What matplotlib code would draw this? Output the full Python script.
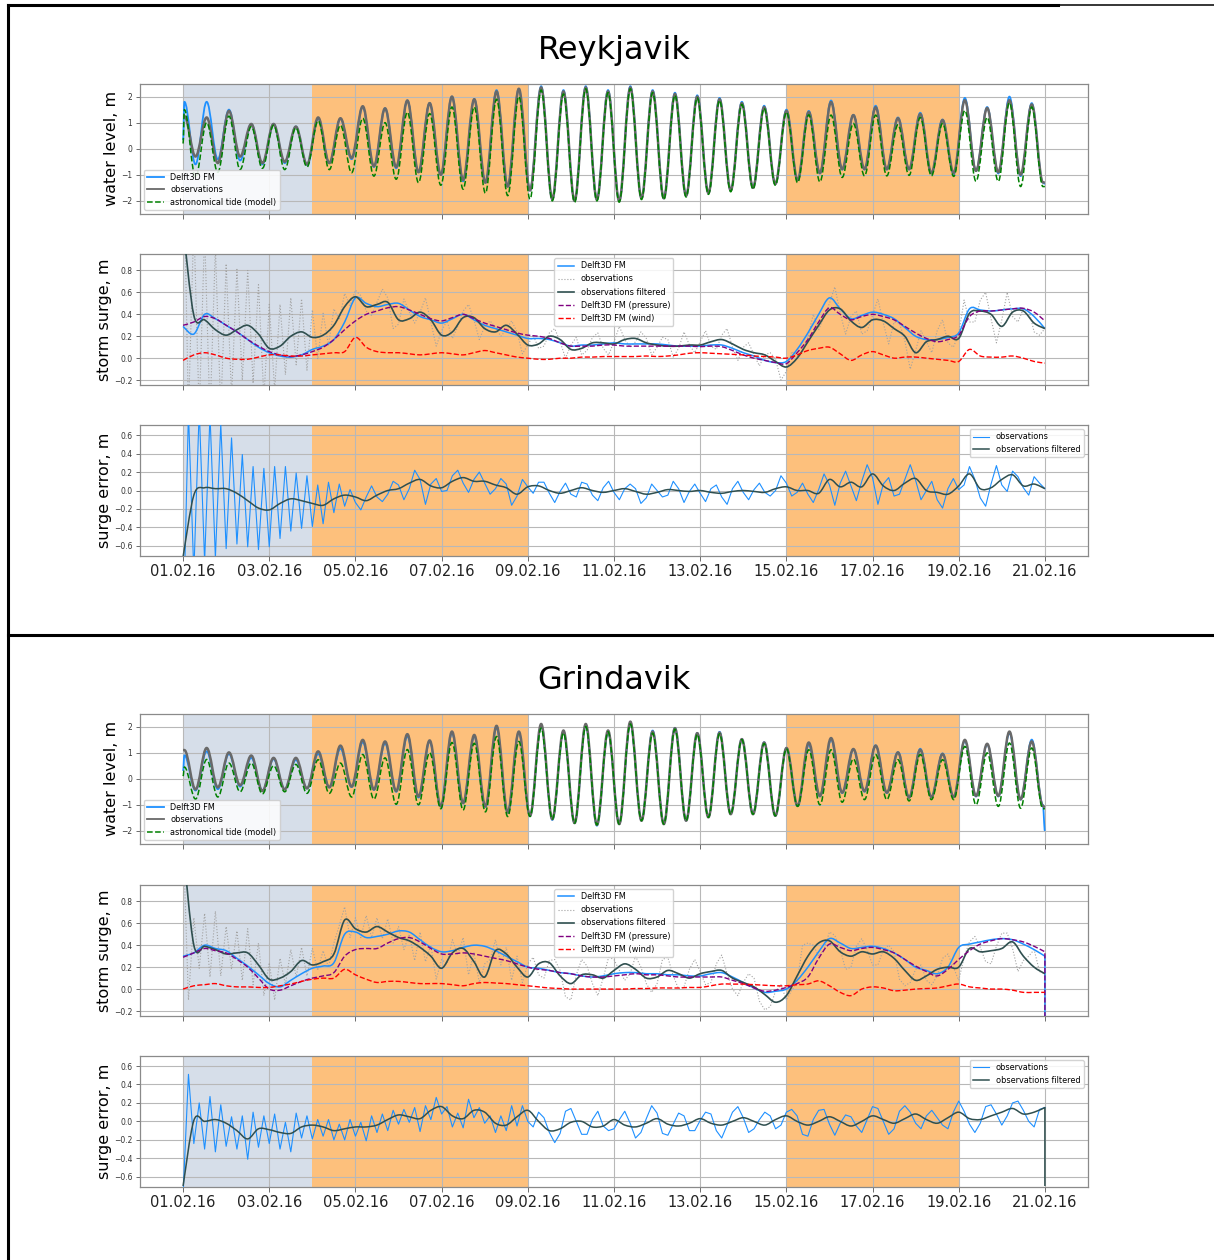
import numpy as np
import matplotlib
matplotlib.use("Agg")
import matplotlib.pyplot as plt
import matplotlib.dates as mdates
from matplotlib.path import Path
from matplotlib.patches import PathPatch
from matplotlib.lines import Line2D

plt.rcParams["font.family"] = ["DejaVu Sans"]

# ------------------------------------------------------------------ time base
START = np.datetime64("2016-02-01T00:00")
RECORD_DAYS = 20.0
HW0 = 0.03            # first high water, days after start
HALF_TIDE = 0.25875   # half of the M2 period, days
N_EXTREMES = 78       # high and low waters in the record

SPINUP = (0.0, 3.0)                  # model spin-up period
EVENTS = [(3.0, 8.0), (14.0, 18.0)]  # storm periods

# ------------------------------------------------------------------ Reykjavik
# water level: start value, alternating high/low waters, end value (m)
rey_wl_model = [0.33,
    1.80, -0.60, 1.80, -0.40, 1.50, -0.45, 0.95, -0.60, 0.95, -0.55,
    0.85, -0.62, 1.15, -0.55, 1.15, -0.40, 1.60, -0.70, 1.55, -0.75,
    1.85, -0.90, 1.75, -1.00, 2.00, -1.25, 1.90, -1.30, 2.25, -1.45,
    2.30, -1.60, 2.40, -1.95, 2.25, -2.00, 2.40, -1.95, 2.25, -2.00,
    2.40, -1.90, 2.25, -1.90, 2.15, -1.80, 2.05, -1.70, 1.95, -1.60,
    1.80, -1.50, 1.65, -1.35, 1.50, -1.20, 1.45, -0.95, 1.85, -0.80,
    1.30, -0.80, 1.65, -0.80, 1.20, -0.80, 1.38, -0.95, 1.12, -0.97,
    1.95, -0.85, 1.60, -0.95, 2.00, -1.05, 1.75, -1.30,
    -1.35]
rey_wl_obs = [1.25,
    1.25, -0.30, 1.20, -0.55, 1.45, -0.30, 0.95, -0.55, 0.95, -0.50,
    0.85, -0.60, 1.20, -0.55, 1.17, -0.35, 1.63, -0.67, 1.55, -0.70,
    1.85, -0.90, 1.75, -1.00, 2.00, -1.20, 1.90, -1.30, 2.20, -1.45,
    2.30, -1.60, 2.35, -1.93, 2.20, -2.00, 2.35, -1.95, 2.20, -2.00,
    2.35, -1.90, 2.20, -1.90, 2.10, -1.80, 2.00, -1.70, 1.90, -1.60,
    1.75, -1.50, 1.60, -1.35, 1.45, -1.20, 1.41, -0.93, 1.79, -0.78,
    1.29, -0.78, 1.59, -0.78, 1.17, -0.78, 1.33, -0.93, 1.10, -0.93,
    1.86, -0.85, 1.56, -0.90, 1.86, -1.00, 1.70, -1.29,
    -1.30]
rey_wl_tide = [0.20,
    1.50, -1.10, 1.00, -0.90, 1.25, -0.80, 0.85, -0.75, 0.90, -0.80,
    0.80, -0.70, 1.07, -0.80, 0.90, -0.92, 1.17, -1.05, 1.00, -1.17,
    1.40, -1.30, 1.35, -1.40, 1.60, -1.55, 1.60, -1.70, 1.90, -1.80,
    2.00, -1.93, 2.25, -2.00, 2.10, -2.05, 2.30, -2.00, 2.15, -2.05,
    2.30, -1.95, 2.15, -1.95, 2.05, -1.85, 1.95, -1.75, 1.85, -1.65,
    1.70, -1.55, 1.55, -1.40, 1.40, -1.30, 1.30, -1.27, 1.29, -1.10,
    0.97, -1.04, 1.29, -1.04, 0.92, -1.02, 1.20, -1.04, 0.97, -1.06,
    1.47, -1.25, 1.20, -1.25, 1.76, -1.45, 1.60, -1.45,
    -1.45]

# storm surge, 6-hourly (m)
rey_surge_model = [
    0.29, 0.22, 0.40, 0.36, 0.30, 0.24, 0.17, 0.10, 0.05, 0.02, 0.01, 0.03,
    0.08, 0.11, 0.17, 0.33, 0.55, 0.50, 0.47, 0.49, 0.50, 0.44, 0.38, 0.35,
    0.32, 0.36, 0.40, 0.35, 0.30, 0.27, 0.24, 0.21, 0.18, 0.18, 0.17, 0.14,
    0.11, 0.12, 0.12, 0.13, 0.14, 0.13, 0.13, 0.13, 0.13, 0.12, 0.11, 0.11,
    0.11, 0.12, 0.12, 0.09, 0.05, 0.02, -0.02, -0.04, -0.03, 0.08, 0.23, 0.40,
    0.55, 0.45, 0.36, 0.39, 0.42, 0.40, 0.36, 0.28, 0.20, 0.17, 0.17, 0.19,
    0.23, 0.45, 0.44, 0.43, 0.44, 0.45, 0.45, 0.38, 0.27]
rey_surge_pressure = [
    0.30, 0.33, 0.38, 0.36, 0.30, 0.24, 0.17, 0.11, 0.06, 0.03, 0.015, 0.03,
    0.06, 0.10, 0.17, 0.26, 0.34, 0.40, 0.43, 0.46, 0.47, 0.44, 0.40, 0.36,
    0.34, 0.37, 0.40, 0.36, 0.32, 0.29, 0.26, 0.23, 0.21, 0.20, 0.18, 0.14,
    0.11, 0.11, 0.11, 0.12, 0.12, 0.11, 0.11, 0.11, 0.11, 0.11, 0.11, 0.11,
    0.105, 0.11, 0.105, 0.07, 0.03, 0.0, -0.02, -0.04, -0.05, 0.05, 0.17, 0.33,
    0.46, 0.40, 0.35, 0.38, 0.40, 0.38, 0.35, 0.29, 0.23, 0.18, 0.15, 0.17,
    0.21, 0.38, 0.43, 0.43, 0.44, 0.45, 0.455, 0.42, 0.34]
rey_surge_wind = [
    -0.02, 0.03, 0.05, 0.03, 0.0, -0.01, -0.01, 0.01, 0.03, 0.03, 0.02, 0.02,
    0.03, 0.04, 0.05, 0.06, 0.19, 0.10, 0.06, 0.05, 0.05, 0.04, 0.03, 0.04,
    0.05, 0.04, 0.03, 0.05, 0.07, 0.05, 0.03, 0.01, 0.0, -0.01, -0.01, 0.0,
    0.0, 0.01, 0.01, 0.015, 0.015, 0.015, 0.015, 0.02, 0.015, 0.02, 0.03, 0.045,
    0.05, 0.045, 0.04, 0.035, 0.03, 0.02, 0.015, 0.01, 0.0, 0.03, 0.07, 0.09,
    0.10, 0.04, -0.02, 0.03, 0.06, 0.03, 0.0, 0.01, 0.01, 0.0, -0.01, -0.02,
    -0.03, 0.08, 0.02, 0.01, 0.01, 0.02, 0.0, -0.03, -0.045]
rey_surge_filtered = [
    1.20, 0.39, 0.35, 0.26, 0.21, 0.26, 0.30, 0.22, 0.09, 0.11, 0.20, 0.24,
    0.19, 0.21, 0.30, 0.47, 0.56, 0.47, 0.49, 0.51, 0.35, 0.36, 0.42, 0.35,
    0.21, 0.24, 0.37, 0.37, 0.27, 0.24, 0.30, 0.22, 0.12, 0.13, 0.20, 0.17,
    0.08, 0.09, 0.14, 0.14, 0.13, 0.17, 0.18, 0.14, 0.12, 0.11, 0.11, 0.12,
    0.12, 0.15, 0.17, 0.13, 0.08, 0.05, 0.03, -0.03, -0.08, 0.0, 0.15, 0.30,
    0.44, 0.45, 0.34, 0.28, 0.35, 0.34, 0.27, 0.20, 0.05, 0.15, 0.17, 0.20,
    0.18, 0.41, 0.43, 0.40, 0.29, 0.42, 0.43, 0.32, 0.27]
rey_error_filtered = [
    -0.72, -0.05, 0.03, 0.02, 0.02, -0.03, -0.11, -0.19, -0.21, -0.14, -0.09, -0.11,
    -0.14, -0.16, -0.09, -0.05, -0.07, -0.11, -0.05, 0.0, 0.02, 0.08, 0.12, 0.05,
    0.03, 0.10, 0.14, 0.10, 0.10, 0.06, 0.03, -0.04, 0.04, 0.05, 0.0, -0.03,
    0.0, 0.03, 0.0, -0.02, 0.0, 0.02, -0.01, -0.04, -0.02, 0.01, 0.0, -0.01,
    0.0, -0.02, -0.03, -0.01, 0.0, -0.01, -0.02, 0.02, 0.04, 0.0, 0.0, -0.03,
    0.12, 0.04, 0.09, 0.04, 0.18, 0.05, 0.0, 0.08, 0.13, 0.0, -0.02, -0.04,
    0.05, 0.18, 0.02, 0.03, 0.12, 0.17, 0.05, 0.07, 0.02]
# observed surge minus its filtered value, 3-hourly (m)
rey_obs_deviation = [
    0.90, -0.90, 0.85, -0.85, 0.80, -0.80, 0.75, -0.70,
    0.65, -0.60, 0.55, -0.50, 0.50, -0.45, 0.45, -0.45,
    0.40, -0.40, 0.38, -0.35, 0.35, -0.30, 0.30, -0.30,
    0.25, -0.22, 0.20, -0.18, 0.15, -0.12, 0.12, -0.08,
    0.06, 0.10, -0.04, -0.10, 0.02, 0.12, 0.04, -0.08,
    -0.04, 0.18, 0.06, -0.10, 0.00, 0.20, -0.02, -0.10,
    0.04, 0.10, -0.06, -0.08, 0.06, 0.12, -0.02, -0.10,
    0.02, 0.10, 0.04, -0.10, -0.04, 0.12, 0.02, -0.08,
    0.00, 0.08, -0.04, -0.09, 0.03, 0.10, -0.02, -0.08,
    0.04, 0.10, -0.06, -0.07, 0.05, 0.09, -0.05, -0.10,
    0.02, 0.12, 0.00, -0.08, -0.03, 0.10, 0.04, -0.09,
    -0.02, 0.08, 0.06, -0.10, -0.02, 0.12, 0.00, -0.07,
    0.03, 0.10, -0.04, -0.09, 0.04, 0.14, -0.03, -0.10,
    0.02, 0.09, -0.02, -0.10, 0.00, 0.08, 0.02, -0.12,
    -0.04, 0.06, 0.02, -0.08, 0.04, 0.10, -0.04, -0.06,
    0.06, 0.20, -0.04, -0.12, 0.04, 0.15, -0.06, -0.10,
    0.04, 0.20, -0.02, -0.14, 0.06, 0.12, -0.04, -0.15,
    0.02, 0.10, 0.00, -0.12, 0.08, 0.15, -0.06, -0.08,
    0.04, 0.12, -0.08, -0.10, 0.10, 0.20, -0.04, -0.15,
    0.06, 0.18, -0.04, -0.10, 0.02, 0.12, -0.08, -0.06,
    0.0]

# ------------------------------------------------------------------ Grindavik
gri_wl_model = [0.30,
    0.90, -0.45, 1.05, -0.40, 0.95, -0.30, 0.80, -0.45, 0.75, -0.40,
    0.72, -0.37, 0.95, -0.33, 1.15, -0.32, 1.40, -0.43, 1.35, -0.50,
    1.62, -0.72, 1.42, -1.05, 1.75, -0.95, 1.62, -1.08, 1.95, -1.30,
    1.78, -1.42, 2.05, -1.58, 1.80, -1.70, 2.05, -1.80, 1.80, -1.72,
    2.12, -1.60, 1.85, -1.72, 1.95, -1.60, 1.75, -1.46, 1.80, -1.34,
    1.52, -1.34, 1.40, -1.42, 1.18, -1.04, 1.30, -0.68, 1.50, -0.55,
    1.12, -0.50, 1.28, -0.55, 1.02, -0.72, 1.15, -0.70, 0.97, -0.70,
    1.45, -0.68, 1.32, -0.68, 1.75, -0.80, 1.50, -1.00,
    -2.00]
gri_wl_obs = [1.10,
    1.10, -0.41, 1.18, -0.33, 1.01, -0.25, 0.89, -0.47, 0.80, -0.41,
    0.80, -0.37, 1.05, -0.33, 1.27, -0.30, 1.49, -0.41, 1.43, -0.47,
    1.71, -0.68, 1.47, -1.06, 1.81, -0.93, 1.68, -1.06, 2.03, -1.29,
    1.81, -1.42, 2.10, -1.55, 1.85, -1.70, 2.10, -1.77, 1.85, -1.74,
    2.19, -1.61, 1.81, -1.74, 1.94, -1.61, 1.75, -1.48, 1.77, -1.36,
    1.52, -1.36, 1.39, -1.42, 1.18, -1.04, 1.39, -0.66, 1.56, -0.53,
    1.14, -0.47, 1.27, -0.53, 1.01, -0.72, 1.11, -0.70, 0.95, -0.70,
    1.49, -0.66, 1.34, -0.66, 1.81, -0.79, 1.43, -1.04,
    -1.10]
gri_wl_tide = [0.10,
    0.45, -0.78, 0.74, -0.70, 0.60, -0.50, 0.60, -0.58, 0.50, -0.50,
    0.55, -0.56, 0.73, -0.56, 0.60, -0.70, 0.93, -0.78, 0.80, -0.98,
    1.12, -1.00, 1.00, -1.15, 1.39, -1.20, 1.36, -1.27, 1.62, -1.45,
    1.43, -1.45, 1.94, -1.55, 1.75, -1.70, 2.00, -1.77, 1.80, -1.74,
    2.10, -1.61, 1.75, -1.74, 1.90, -1.61, 1.70, -1.48, 1.72, -1.36,
    1.50, -1.36, 1.35, -1.42, 1.15, -1.06, 1.11, -1.00, 1.11, -0.90,
    0.76, -0.80, 0.93, -0.80, 0.73, -0.85, 0.93, -0.80, 0.73, -0.80,
    1.24, -1.00, 0.99, -1.06, 1.37, -1.13, 1.18, -1.15,
    -1.15]

gri_surge_model = [
    0.30, 0.33, 0.40, 0.37, 0.35, 0.28, 0.21, 0.13, 0.05, 0.02, 0.08, 0.14,
    0.19, 0.21, 0.24, 0.50, 0.52, 0.47, 0.48, 0.50, 0.53, 0.52, 0.45, 0.38,
    0.34, 0.35, 0.38, 0.40, 0.39, 0.35, 0.30, 0.25, 0.20, 0.19, 0.17, 0.15,
    0.14, 0.12, 0.11, 0.12, 0.14, 0.15, 0.15, 0.14, 0.14, 0.13, 0.13, 0.12,
    0.12, 0.14, 0.15, 0.11, 0.06, 0.01, -0.03, -0.02, 0.0, 0.08, 0.20, 0.34,
    0.46, 0.42, 0.37, 0.38, 0.39, 0.37, 0.33, 0.27, 0.20, 0.17, 0.14, 0.20,
    0.38, 0.41, 0.43, 0.45, 0.46, 0.45, 0.41, 0.36, 0.30]
gri_surge_pressure = [
    0.29, 0.33, 0.37, 0.35, 0.33, 0.27, 0.20, 0.10, 0.0, -0.01, 0.03, 0.07,
    0.10, 0.12, 0.15, 0.30, 0.36, 0.37, 0.37, 0.42, 0.46, 0.47, 0.43, 0.37,
    0.32, 0.32, 0.33, 0.32, 0.30, 0.28, 0.26, 0.23, 0.20, 0.18, 0.17, 0.15,
    0.14, 0.12, 0.11, 0.11, 0.12, 0.13, 0.14, 0.13, 0.13, 0.12, 0.11, 0.11,
    0.11, 0.11, 0.11, 0.08, 0.05, 0.01, -0.02, -0.01, 0.015, 0.05, 0.11, 0.28,
    0.41, 0.38, 0.35, 0.37, 0.38, 0.36, 0.33, 0.27, 0.21, 0.16, 0.12, 0.18,
    0.27, 0.35, 0.41, 0.44, 0.46, 0.45, 0.43, 0.39, 0.34]
gri_surge_wind = [
    0.0, 0.03, 0.04, 0.05, 0.03, 0.02, 0.02, 0.015, 0.015, 0.03, 0.046, 0.07,
    0.09, 0.10, 0.10, 0.18, 0.13, 0.09, 0.06, 0.07, 0.07, 0.06, 0.05, 0.05,
    0.05, 0.04, 0.03, 0.05, 0.06, 0.055, 0.05, 0.04, 0.03, 0.02, 0.01, 0.005,
    0.0, 0.0, 0.0, 0.0, 0.0, 0.0, 0.005, 0.005, 0.01, 0.01, 0.01, 0.015,
    0.015, 0.03, 0.046, 0.045, 0.045, 0.04, 0.035, 0.03, 0.03, 0.04, 0.046, 0.075,
    0.03, -0.03, -0.06, 0.0, 0.02, 0.01, -0.015, -0.01, 0.0, 0.005, 0.01, 0.03,
    0.046, 0.02, 0.01, 0.0, 0.0, -0.01, -0.03, -0.03, -0.03]
gri_surge_filtered = [
    1.30, 0.40, 0.39, 0.36, 0.32, 0.33, 0.33, 0.22, 0.09, 0.10, 0.16, 0.26,
    0.22, 0.25, 0.32, 0.63, 0.55, 0.52, 0.57, 0.52, 0.47, 0.44, 0.38, 0.30,
    0.19, 0.33, 0.37, 0.25, 0.11, 0.35, 0.32, 0.20, 0.11, 0.23, 0.24, 0.12,
    0.05, 0.13, 0.13, 0.10, 0.17, 0.23, 0.18, 0.10, 0.11, 0.17, 0.14, 0.10,
    0.14, 0.16, 0.17, 0.10, 0.06, 0.02, -0.05, -0.12, -0.06, 0.12, 0.30, 0.42,
    0.44, 0.34, 0.30, 0.34, 0.32, 0.34, 0.28, 0.17, 0.08, 0.12, 0.18, 0.20,
    0.20, 0.37, 0.34, 0.35, 0.37, 0.43, 0.30, 0.20, 0.14]
gri_error_filtered = [
    -0.70, 0.01, 0.0, 0.02, -0.02, -0.10, -0.19, -0.08, -0.09, -0.12, -0.13, -0.06,
    -0.04, -0.06, -0.10, -0.08, -0.06, -0.06, -0.04, 0.02, 0.07, 0.05, 0.03, 0.12,
    0.16, 0.06, 0.03, 0.12, 0.10, -0.02, -0.04, 0.05, 0.12, 0.0, -0.10, -0.08,
    -0.01, 0.0, -0.06, -0.05, 0.02, -0.04, -0.06, -0.02, 0.03, -0.03, -0.05, -0.02,
    0.03, -0.02, -0.04, 0.0, 0.04, 0.0, -0.04, 0.02, 0.06, 0.0, -0.04, 0.0,
    0.05, 0.0, -0.05, 0.0, 0.06, 0.02, -0.02, 0.03, 0.08, 0.02, -0.02, 0.04,
    0.10, 0.03, 0.02, 0.06, 0.10, 0.14, 0.08, 0.10, 0.15]
gri_obs_deviation = [
    0.10, -0.50, 0.25, -0.20, 0.30, -0.25, 0.35, -0.20,
    0.25, -0.15, 0.20, -0.25, 0.22, -0.18, 0.20, -0.15,
    0.15, -0.20, 0.18, -0.12, 0.20, -0.15, 0.12, -0.10,
    0.15, -0.08, 0.10, -0.12, 0.10, -0.05, 0.12, -0.08,
    0.10, -0.05, 0.15, -0.10, 0.08, -0.06, 0.12, -0.05,
    0.10, -0.08, 0.06, -0.12, 0.14, -0.05, 0.10, -0.10,
    0.08, -0.10, 0.12, -0.06, 0.10, -0.12, 0.08, -0.05,
    0.12, -0.08, 0.10, -0.10, 0.06, -0.12, 0.10, -0.05,
    0.12, 0.06, -0.10, -0.14, 0.02, 0.15, 0.05, -0.12,
    -0.15, 0.0, 0.14, 0.08, -0.08, -0.16, 0.0, 0.12,
    0.10, -0.06, -0.15, -0.04, 0.12, 0.10, -0.05, -0.14,
    -0.06, 0.10, 0.12, -0.02, -0.14, -0.08, 0.08, 0.13,
    0.02, -0.12, -0.10, 0.06, 0.14, 0.04, -0.10, -0.12,
    0.0, 0.12, 0.08, -0.06, -0.14, -0.04, 0.10, 0.10,
    -0.04, -0.13, -0.06, 0.10, 0.12, -0.02, -0.12, -0.08,
    0.08, 0.15, 0.02, -0.12, -0.10, 0.05, 0.12, 0.04,
    -0.10, -0.12, 0.02, 0.12, 0.06, -0.08, -0.14, -0.02,
    0.10, 0.10, -0.04, -0.14, -0.06, 0.08, 0.12, 0.0,
    -0.12, -0.08, 0.06, 0.14, 0.04, -0.10, -0.12, 0.02,
    0.14, 0.08, -0.06, -0.14, -0.04, 0.10, 0.16, 0.02,
    0.0]
gri_surge_tail = -0.25   # last model sample
gri_error_tail = -0.70

# ------------------------------------------------------------------ styling
C_MODEL = "dodgerblue"
C_OBS_WL = "dimgray"
C_TIDE = "green"
C_OBS = "#a2a2a2"
C_FILT = "darkslategray"
C_PRES = "purple"
C_WIND = "red"
C_SPIN = "#d6dee9"
C_EVENT = "#fdc07c"
LEGEND_FS = 5.9

base = mdates.date2num(START.astype("datetime64[s]").astype(object))
wl_t = np.concatenate([[0.0], HW0 + HALF_TIDE * np.arange(N_EXTREMES), [RECORD_DAYS]])
t6 = np.arange(81) * 0.25
t3 = np.arange(161) * 0.125
knot_of_t3 = (np.arange(161) + 1) // 2   # nearest following 6-hourly knot


def tidal_path(t, v):
    """Curve through high/low waters with flat tangents at every turning point."""
    x = base + np.asarray(t, float)
    y = np.asarray(v, float)
    verts = [(x[0], y[0])]
    codes = [Path.MOVETO]
    for i in range(len(x) - 1):
        d = 0.36 * (x[i + 1] - x[i])
        verts += [(x[i] + d, y[i]), (x[i + 1] - d, y[i + 1]), (x[i + 1], y[i + 1])]
        codes += [Path.CURVE4] * 3
    return Path(verts, codes)


def smooth_path(t, v, tail=None):
    """Catmull-Rom curve through regularly sampled values."""
    x = base + np.asarray(t, float)
    y = np.asarray(v, float)
    n = len(x)
    verts = [(x[0], y[0])]
    codes = [Path.MOVETO]
    for i in range(n - 1):
        xp, yp = (x[i - 1], y[i - 1]) if i > 0 else (x[i], y[i])
        xn, yn = (x[i + 2], y[i + 2]) if i + 2 < n else (x[i + 1], y[i + 1])
        c1 = (x[i] + (x[i + 1] - xp) / 6, y[i] + (y[i + 1] - yp) / 6)
        c2 = (x[i + 1] - (xn - x[i]) / 6, y[i + 1] - (yn - y[i]) / 6)
        verts += [c1, c2, (x[i + 1], y[i + 1])]
        codes += [Path.CURVE4] * 3
    if tail is not None:
        verts.append((x[-1], tail))
        codes.append(Path.LINETO)
    return Path(verts, codes)


def draw(ax, path, color, lw, ls="-", z=2):
    ax.add_patch(PathPatch(path, fill=False, edgecolor=color, lw=lw,
                           linestyle=ls, zorder=z, joinstyle="round",
                           capstyle="butt"))


def frame(ax, ylim, yticks, ylabel, show_dates):
    ax.axvspan(base + SPINUP[0], base + SPINUP[1], color=C_SPIN, lw=0, zorder=0.5)
    for a, b in EVENTS:
        ax.axvspan(base + a, base + b, color=C_EVENT, lw=0, zorder=0.5)
    ax.set_xlim(base - 1, base + RECORD_DAYS + 1)
    ax.set_ylim(*ylim)
    ax.set_yticks(yticks)
    ax.set_xticks(base + np.arange(0, 21, 2))
    ax.xaxis.set_major_formatter(mdates.DateFormatter("%d.%m.%y"))
    ax.grid(True, color="#b8b8b8", lw=0.8, zorder=1)
    ax.tick_params(axis="y", labelsize=5.5, length=3, width=0.6, pad=2.5,
                   colors="#555555", labelcolor="#333333")
    ax.tick_params(axis="x", labelsize=10.5, length=3.5, width=0.6, pad=2.0,
                   colors="#555555", labelcolor="#222222",
                   labelbottom=show_dates)
    for s in ax.spines.values():
        s.set_color("#8a8a8a")
        s.set_linewidth(0.9)
    ax.set_ylabel(ylabel, fontsize=11.5, labelpad=1.5)


def station(fig, name, title_y, rows, wl, surge, error):
    left, width = 0.1153, 0.7809
    ax1 = fig.add_axes([left, rows[0], width, 0.1035])
    ax2 = fig.add_axes([left, rows[1], width, 0.1040])
    ax3 = fig.add_axes([left, rows[2], width, 0.1040])
    fig.text(0.5058, title_y, name, ha="center", va="center", fontsize=23)

    # water level
    frame(ax1, (-2.5, 2.5), [-2, -1, 0, 1, 2], "water level, m", False)
    draw(ax1, tidal_path(wl_t, wl["model"]), C_MODEL, 1.3, z=2)
    draw(ax1, tidal_path(wl_t, wl["obs"]), C_OBS_WL, 1.8, z=3)
    draw(ax1, tidal_path(wl_t, wl["tide"]), C_TIDE, 1.1, "--", z=4)
    ax1.legend(handles=[Line2D([], [], color=C_MODEL, lw=1.3),
                        Line2D([], [], color=C_OBS_WL, lw=1.3),
                        Line2D([], [], color=C_TIDE, lw=1.1, ls="--")],
               labels=["Delft3D FM", "observations", "astronomical tide (model)"],
               loc="lower left", fontsize=LEGEND_FS, labelspacing=0.4,
               framealpha=0.85)

    # storm surge
    frame(ax2, (-0.245, 0.95), [-0.2, 0.0, 0.2, 0.4, 0.6, 0.8], "storm surge, m", False)
    filt = np.asarray(surge["filtered"])
    obs = filt[knot_of_t3] + np.asarray(surge["deviation"])
    draw(ax2, smooth_path(t6, surge["model"], surge.get("tail")), C_MODEL, 1.1, z=3)
    ax2.plot(base + t3, obs, color=C_OBS, lw=0.8, ls=":", zorder=2.5)
    draw(ax2, smooth_path(t6, surge["filtered"]), C_FILT, 1.2, z=4)
    draw(ax2, smooth_path(t6, surge["pressure"], surge.get("tail")), C_PRES, 1.0, "--", z=5)
    draw(ax2, smooth_path(t6, surge["wind"]), C_WIND, 1.0, "--", z=5)
    ax2.legend(handles=[Line2D([], [], color=C_MODEL, lw=1.1),
                        Line2D([], [], color=C_OBS, lw=0.8, ls=":"),
                        Line2D([], [], color=C_FILT, lw=1.2),
                        Line2D([], [], color=C_PRES, lw=1.0, ls="--"),
                        Line2D([], [], color=C_WIND, lw=1.0, ls="--")],
               labels=["Delft3D FM", "observations", "observations filtered",
                       "Delft3D FM (pressure)", "Delft3D FM (wind)"],
               loc="upper center", fontsize=LEGEND_FS, labelspacing=0.5,
               framealpha=0.85)

    # surge error (model minus observations)
    frame(ax3, (-0.71, 0.71), [-0.6, -0.4, -0.2, 0.0, 0.2, 0.4, 0.6], "surge error, m", True)
    errf = np.asarray(error["filtered"])
    err_obs = errf[knot_of_t3] - np.asarray(surge["deviation"])
    ax3.plot(base + t3, err_obs, color=C_MODEL, lw=0.8, zorder=3)
    draw(ax3, smooth_path(t6, error["filtered"], error.get("tail")), C_FILT, 1.1, z=4)
    ax3.legend(handles=[Line2D([], [], color=C_MODEL, lw=0.8),
                        Line2D([], [], color=C_FILT, lw=1.1)],
               labels=["observations", "observations filtered"],
               loc="upper right", fontsize=LEGEND_FS, labelspacing=0.4,
               framealpha=0.85)


fig = plt.figure(figsize=(12.14, 12.6), dpi=100)

station(fig, "Reykjavik", 0.960, [0.8302, 0.6944, 0.5587],
        {"model": rey_wl_model, "obs": rey_wl_obs, "tide": rey_wl_tide},
        {"model": rey_surge_model, "pressure": rey_surge_pressure,
         "wind": rey_surge_wind, "filtered": rey_surge_filtered,
         "deviation": rey_obs_deviation},
        {"filtered": rey_error_filtered})

station(fig, "Grindavik", 0.4603, [0.3302, 0.1937, 0.0580],
        {"model": gri_wl_model, "obs": gri_wl_obs, "tide": gri_wl_tide},
        {"model": gri_surge_model, "pressure": gri_surge_pressure,
         "wind": gri_surge_wind, "filtered": gri_surge_filtered,
         "deviation": gri_obs_deviation, "tail": gri_surge_tail},
        {"filtered": gri_error_filtered, "tail": gri_error_tail})

# table rules around the two panels
xl = 7.5 / 1214
fig.add_artist(Line2D([xl, xl], [0.0, 1 - 5 / 1260], color="black", lw=2.2))
fig.add_artist(Line2D([xl, 1058 / 1214], [1 - 5 / 1260, 1 - 5 / 1260], color="black", lw=2.2))
fig.add_artist(Line2D([1058 / 1214, 1.0], [1 - 5 / 1260, 1 - 5 / 1260], color="black", lw=1.1))
fig.add_artist(Line2D([xl, 1.0], [1 - 634.5 / 1260, 1 - 634.5 / 1260], color="black", lw=2.2))

fig.savefig("out.png", dpi=100)
